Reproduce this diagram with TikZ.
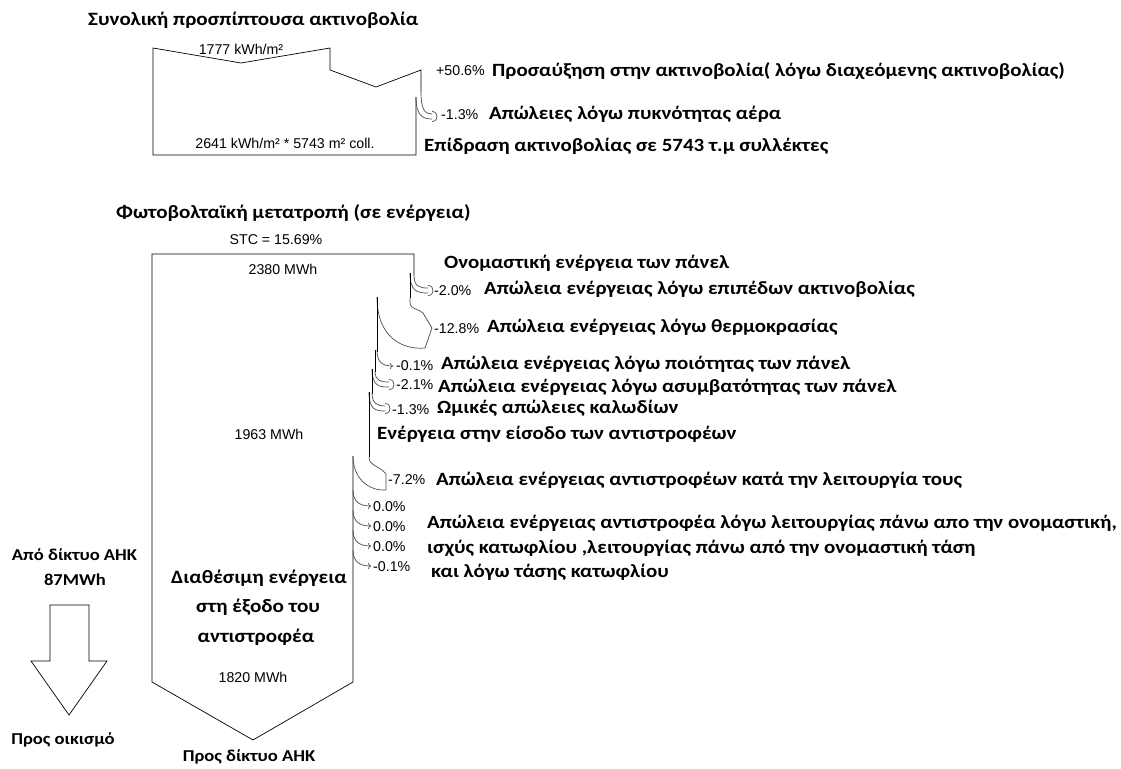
\documentclass[tikz,border=0pt]{standalone}
\usepackage{fontspec}
\setmainfont{Carlito}
\newfontfamily\cwide{Carlito}[FakeStretch=1.12]
\newfontfamily\arialf{Liberation Sans}
\usetikzlibrary{arrows.meta}
\tikzset{
  x=1pt,y=-1pt,
  flow/.style={draw=black,line width=0.7pt,line join=miter},
  loss/.style={draw=black!70,line width=0.7pt},
  lhead/.style={draw=black!70,line width=0.7pt},
  thin/.style={draw=black!70,line width=0.7pt,-{To[length=3pt,width=6pt]}},
  lbl/.style={font=\cwide\bfseries\fontsize{18.7}{22}\selectfont,anchor=west,inner sep=0pt},
  tlbl/.style={font=\cwide\bfseries\fontsize{18.8}{22}\selectfont,anchor=west,inner sep=0pt},
  clbl/.style={font=\cwide\bfseries\fontsize{16.6}{20}\selectfont,anchor=center,inner sep=0pt},
  blbl/.style={font=\cwide\bfseries\fontsize{18.9}{22}\selectfont,anchor=center,inner sep=0pt},
  num/.style={font=\arialf\fontsize{14.2}{16}\selectfont,anchor=west,inner sep=0pt},
  cnum/.style={font=\arialf\fontsize{14.2}{16}\selectfont,anchor=center,inner sep=0pt},
}
\newcommand{\dhead}[2]{\draw[lhead] (#1-5,#2-5) .. controls (#1-1,#2-5) and (#1,#2-2) .. (#1,#2) .. controls (#1,#2+2) and (#1-1,#2+5) .. (#1-5,#2+5);}
\begin{document}
\begin{tikzpicture}
\useasboundingbox (0,0) rectangle (1121,768);
% ---------- top diagram ----------
\node[tlbl] (t1) at (88,20) {Συνολική προσπίπτουσα ακτινοβολία};
\draw[flow] (421,92) -- (421,70) -- (376,87) -- (330,70) -- (330,48) -- (241,63) -- (153,48) -- (153,155) -- (416,155) -- (416,97);
\draw[loss] (421,92) .. controls (421,110) and (425,114) .. (432,114);
\draw[loss] (416,97) .. controls (416,116) and (423,119) .. (432,119);
\dhead{437}{116.5}
\node[cnum] (v1) at (241,49) {1777 kWh/m²};
\node[cnum] (v2) at (285,143) {2641 kWh/m² * 5743 m² coll.};
\node[num] (p1) at (436,71) {+50.6\%};
\node[lbl] (l1) at (492,71) {Προσαύξηση στην ακτινοβολία( λόγω διαχεόμενης ακτινοβολίας)};
\node[num] (p2) at (441,115) {-1.3\%};
\node[lbl] (l2) at (489,114) {Απώλειες λόγω πυκνότητας αέρα};
\node[lbl] (l3) at (424,146) {Επίδραση ακτινοβολίας σε 5743 τ.μ συλλέκτες};
% ---------- bottom diagram ----------
\node[tlbl] (t2) at (116,213) {Φωτοβολταϊκή μετατροπή (σε ενέργεια)};
\node[cnum] (stc) at (276,240) {STC = 15.69\%};
\draw[flow] (414,275) -- (414,254) -- (152,254) -- (152,682) -- (253,740) -- (353,682) -- (353,456);
% -2.0%
\draw[loss] (414,275) .. controls (414,287) and (420,288) .. (428,288);
\draw[loss] (410,273) .. controls (410,292) and (418,293) .. (428,293);
\dhead{433}{290.5}
\draw[flow] (410,273) -- (410,298);
% -12.8%
\draw[loss] (410,298) -- (410,302) .. controls (410,310) and (418,308) .. (423,313) -- (432,328);
\draw[loss] (377,297) .. controls (377,338) and (403,350) .. (425,348) -- (432,328);
\draw[flow] (377,297) -- (377,352);
% -0.1%
\draw[thin] (377,350) .. controls (377,362) and (382,366) .. (393,366);
\draw[flow] (375,350) -- (375,372);
% -2.1%
\draw[loss] (375,371) .. controls (375,381) and (381,382) .. (389,382);
\draw[loss] (372,369) .. controls (372,387) and (380,387) .. (389,387);
\dhead{394}{384.5}
\draw[flow] (372,369) -- (372,394);
% -1.3%
\draw[loss] (372,393) .. controls (372,404) and (378,406) .. (385,406);
\draw[loss] (369,392) .. controls (369,410) and (376,411) .. (385,411);
\dhead{390}{408.5}
\draw[flow] (369,392) -- (369,457);
% -7.2%
\draw[loss] (369,457) .. controls (369,466) and (380,466) .. (386,474) -- (386,490);
\draw[loss] (353,456) .. controls (353,478) and (368,491) .. (386,490);
% small losses
\draw[thin] (353,490) .. controls (353,502) and (360,506) .. (371,506);
\draw[thin] (353,510) .. controls (353,522) and (360,526) .. (371,526);
\draw[thin] (353,530) .. controls (353,542) and (360,546) .. (371,546);
\draw[thin] (353,550) .. controls (353,562) and (360,566) .. (371,566);
% texts bottom
\node[cnum] (e1) at (283,269) {2380 MWh};
\node[lbl] (b0) at (444,263) {Ονομαστική ενέργεια των πάνελ};
\node[num] (q1) at (434,291) {-2.0\%};
\node[lbl] (b1) at (484,289) {Απώλεια ενέργειας λόγω επιπέδων ακτινοβολίας};
\node[num] (q2) at (434,329) {-12.8\%};
\node[lbl] (b2) at (487,327) {Απώλεια ενέργειας λόγω θερμοκρασίας};
\node[num] (q3) at (396,366) {-0.1\%};
\node[lbl] (b3) at (441,364) {Απώλεια ενέργειας λόγω ποιότητας των πάνελ};
\node[num] (q4) at (396,385) {-2.1\%};
\node[lbl] (b4) at (438,387) {Απώλεια ενέργειας λόγω ασυμβατότητας των πάνελ};
\node[num] (q5) at (392,410) {-1.3\%};
\node[lbl] (b5) at (437,408) {Ωμικές απώλειες καλωδίων};
\node[lbl] (b6) at (377,434) {Ενέργεια στην είσοδο των αντιστροφέων};
\node[cnum] (e2) at (269,434) {1963 MWh};
\node[num] (q6) at (388,480) {-7.2\%};
\node[lbl] (b7) at (436,480) {Απώλεια ενέργειας αντιστροφέων κατά την λειτουργία τους};
\node[num] (q7) at (373,507) {0.0\%};
\node[num] (q8) at (373,527) {0.0\%};
\node[num] (q9) at (373,547) {0.0\%};
\node[num] (q10) at (373,567) {-0.1\%};
\node[lbl] (b8) at (427,523) {Απώλεια ενέργειας αντιστροφέα λόγω λειτουργίας πάνω απο την ονομαστική,};
\node[lbl] (b9) at (427,548) {ισχύς κατωφλίου ,λειτουργίας πάνω από την ονομαστική τάση};
\node[lbl] (b10) at (431,572) {και λόγω τάσης κατωφλίου};
\node[clbl] (g1) at (74.5,555) {Από δίκτυο ΑΗΚ};
\node[clbl] (g2) at (75,580) {87MWh};
\draw[flow] (50,605) -- (89,605) -- (89,661) -- (107,661) -- (69,715) -- (31,661) -- (50,661) -- cycle;
\node[clbl] (g3) at (63,740) {Προς οικισμό};
\node[blbl] (o1) at (259,578) {Διαθέσιμη ενέργεια};
\node[blbl] (o2) at (258,607) {στη έξοδο του};
\node[blbl] (o3) at (256,637) {αντιστροφέα};
\node[cnum] (e3) at (253,677) {1820 MWh};
\node[clbl] (o4) at (249,757) {Προς δίκτυο ΑΗΚ};
\end{tikzpicture}
\end{document}
